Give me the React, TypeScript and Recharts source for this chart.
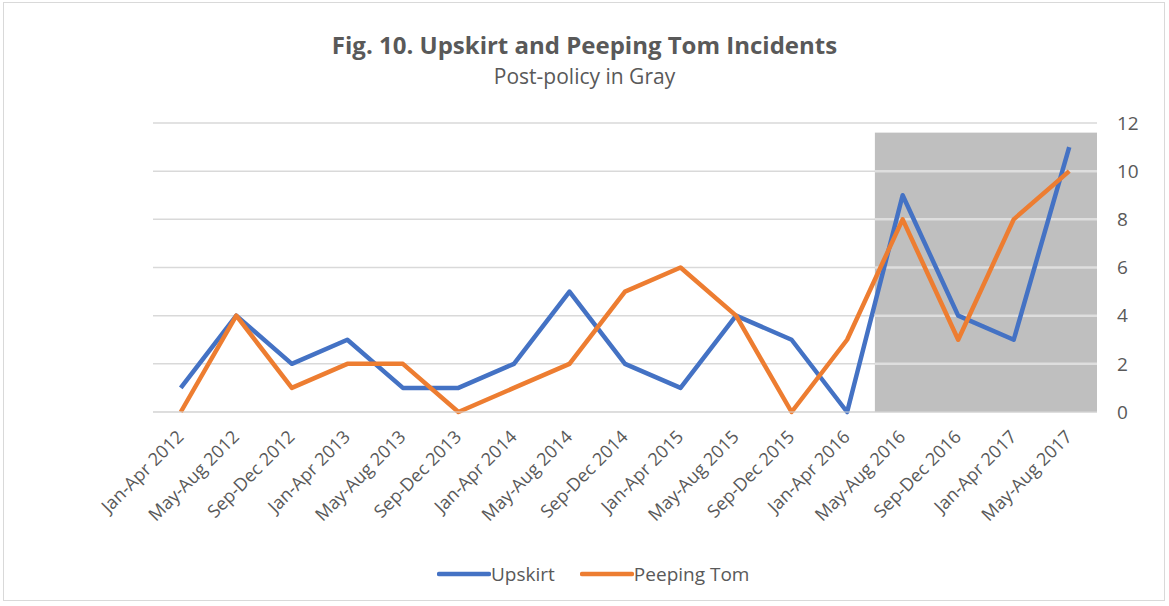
import React from 'react';
import { LineChart, Line, XAxis, YAxis, CartesianGrid, ReferenceArea } from 'recharts';

const periods = [
  'Jan-Apr 2012', 'May-Aug 2012', 'Sep-Dec 2012',
  'Jan-Apr 2013', 'May-Aug 2013', 'Sep-Dec 2013',
  'Jan-Apr 2014', 'May-Aug 2014', 'Sep-Dec 2014',
  'Jan-Apr 2015', 'May-Aug 2015', 'Sep-Dec 2015',
  'Jan-Apr 2016', 'May-Aug 2016', 'Sep-Dec 2016',
  'Jan-Apr 2017', 'May-Aug 2017',
];
const upskirt = [1, 4, 2, 3, 1, 1, 2, 5, 2, 1, 4, 3, 0, 9, 4, 3, 11];
const peepingTom = [0, 4, 1, 2, 2, 0, 1, 2, 5, 6, 4, 0, 3, 8, 3, 8, 10];
const yTicks = [0, 2, 4, 6, 8, 10, 12];

// post-policy shading: last four category bands, in category-index units
const grayStart = 12.5;
const grayEnd = 16.5;
const grayTop = 11.6;

const data = periods.map((p, i) => ({ idx: i, period: p, upskirt: upskirt[i], peeping: peepingTom[i] }));
const xTicks = periods.map((_, i) => i);

const FONT = '"Open Sans", "Noto Sans", sans-serif';
const TEXT = '#595959';

function AngledTick(props: any) {
  const { x, y, payload } = props;
  const ax = x + 4;
  const ay = y + 18;
  return (
    <text
      x={ax}
      y={ay}
      transform={`rotate(-45, ${ax}, ${ay})`}
      textAnchor="end"
      fill={TEXT}
      fontSize={18}
      fontFamily={FONT}
    >
      {periods[payload.value]}
    </text>
  );
}

// gray block with the horizontal gridlines showing through it
function GrayShape(props: any) {
  const { x, y, width, height } = props;
  const bottom = y + height;
  const perUnit = height / grayTop;
  return (
    <g>
      <rect x={x} y={y} width={width} height={height} fill="#bfbfbf" />
      {yTicks.filter((t) => t > 0 && t < grayTop).map((t) => (
        <line key={t} x1={x} x2={x + width} y1={bottom - t * perUnit} y2={bottom - t * perUnit} stroke="#dedede" strokeWidth={2.5} />
      ))}
    </g>
  );
}

const legendItems = [
  { label: 'Upskirt', color: '#4472C4' },
  { label: 'Peeping Tom', color: '#ED7D31' },
];

export default function App() {
  return (
    <div
      style={{
        position: 'absolute',
        left: 0,
        top: 0,
        width: 1169,
        height: 606,
        background: '#fff',
        fontFamily: FONT,
      }}
    >
      <div style={{ position: 'absolute', left: 3, top: 2, width: 1160, height: 597, border: '1px solid #d9d9d9' }} />
      <div style={{ position: 'absolute', left: 0, width: 1169, top: 28, textAlign: 'center', fontSize: 24, fontWeight: 700, color: TEXT }}>
        Fig. 10. Upskirt and Peeping Tom Incidents
      </div>
      <div style={{ position: 'absolute', left: 0, width: 1169, top: 62, textAlign: 'center', fontSize: 21, color: TEXT }}>
        Post-policy in Gray
      </div>
      <div style={{ position: 'absolute', left: 0, top: 0 }}>
        <LineChart width={1169} height={606} data={data} margin={{ top: 123, right: 0, left: 153, bottom: 0 }}>
          <CartesianGrid vertical={false} stroke="#d9d9d9" strokeWidth={1.5} />
          <XAxis
            dataKey="idx"
            type="number"
            domain={[-0.5, 16.5]}
            ticks={xTicks}
            interval={0}
            height={194}
            tick={<AngledTick />}
            tickLine={false}
            axisLine={{ stroke: '#d9d9d9' }}
          />
          <YAxis
            orientation="right"
            domain={[0, 12]}
            ticks={yTicks}
            width={72}
            tickLine={false}
            axisLine={false}
            tick={{ fill: TEXT, fontSize: 19, fontFamily: FONT }}
            tickMargin={14}
          />
          <ReferenceArea x1={grayStart} x2={grayEnd} y1={0} y2={grayTop} shape={<GrayShape />} />
          <Line dataKey="upskirt" name="Upskirt" stroke="#4472C4" strokeWidth={4.5} dot={false} type="linear" strokeLinejoin="round" isAnimationActive={false} />
          <Line dataKey="peeping" name="Peeping Tom" stroke="#ED7D31" strokeWidth={4.5} dot={false} type="linear" strokeLinejoin="round" isAnimationActive={false} />
        </LineChart>
      </div>
      <div style={{ position: 'absolute', left: 437, top: 561, display: 'flex', alignItems: 'center', fontSize: 19, color: TEXT }}>
        {legendItems.map((it, i) => (
          <div key={it.label} style={{ display: 'flex', alignItems: 'center', marginLeft: i === 0 ? 0 : 25 }}>
            <svg width={54} height={10}>
              <line x1={2} y1={5} x2={52} y2={5} stroke={it.color} strokeWidth={4.5} strokeLinecap="round" />
            </svg>
            <span>{it.label}</span>
          </div>
        ))}
      </div>
    </div>
  );
}
